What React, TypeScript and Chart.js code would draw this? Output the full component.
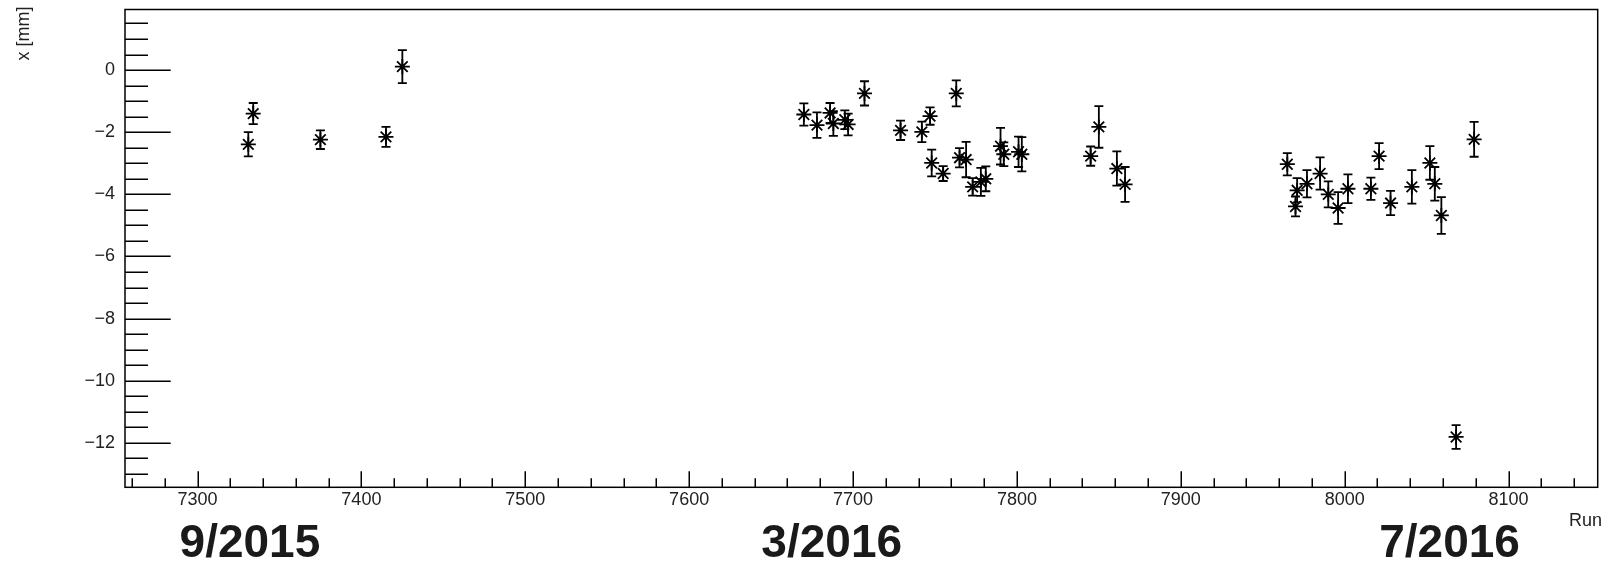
import React, { useEffect, useRef } from "react";
import { Chart, registerables } from "chart.js";

Chart.register(...registerables);

// Run numbers
const runs = [
  7331, 7334, 7375, 7415, 7425,
  7670, 7678, 7686, 7688, 7695, 7697, 7707, 7729, 7742, 7747, 7748, 7755, 7763, 7765, 7769,
  7773, 7778, 7781, 7790, 7792, 7801, 7803, 7845, 7850, 7861, 7866,
  7965, 7970, 7971, 7977, 7985, 7990, 7996, 8002, 8016, 8021, 8028, 8041, 8052, 8055, 8059,
  8068, 8079,
];
// x position [mm]
const xPositions = [
  -2.39, -1.4, -2.24, -2.15, 0.11,
  -1.43, -1.77, -1.38, -1.72, -1.6, -1.75, -0.75, -1.94, -1.99, -1.48, -2.99, -3.33, -0.75, -2.82, -2.88,
  -3.76, -3.6, -3.5, -2.45, -2.71, -2.63, -2.71, -2.77, -1.83, -3.17, -3.68,
  -3.03, -4.39, -3.87, -3.66, -3.33, -4.0, -4.44, -3.82, -3.82, -2.77, -4.28, -3.76, -2.99, -3.66, -4.68,
  -11.81, -2.23,
];
// error [mm]
const xErrors = [
  0.39, 0.34, 0.3, 0.32, 0.53,
  0.36, 0.41, 0.32, 0.4, 0.3, 0.35, 0.39, 0.31, 0.33, 0.28, 0.43, 0.24, 0.42, 0.31, 0.57,
  0.28, 0.45, 0.4, 0.59, 0.38, 0.49, 0.55, 0.31, 0.67, 0.55, 0.56,
  0.36, 0.32, 0.39, 0.44, 0.52, 0.42, 0.51, 0.46, 0.36, 0.42, 0.39, 0.54, 0.54, 0.54, 0.59,
  0.38, 0.56,
];

const yMajorTicks = [0, -2, -4, -6, -8, -10, -12];
const xMajorTicks = [7300, 7400, 7500, 7600, 7700, 7800, 7900, 8000, 8100];
const dateLabels = ["9/2015", "3/2016", "7/2016"];
const dateRuns = [7332, 7687, 8064];

const X_MIN = 7255.76;
const X_MAX = 8154.4;
const Y_MIN = -13.43;
const Y_MAX = 1.95;

const FONT = '"Liberation Sans", Arial, Helvetica, sans-serif';

const zeroPad = (scale: any) => {
  scale.paddingTop = 0;
  scale.paddingBottom = 0;
  scale.paddingLeft = 0;
  scale.paddingRight = 0;
};

const rootPlugin = {
  id: "rootStyle",
  afterDatasetsDraw(chart: any) {
    const ctx = chart.ctx;
    const xs = chart.scales.x;
    const ys = chart.scales.y;
    ctx.save();
    ctx.strokeStyle = "#000";
    ctx.lineWidth = 1.8;
    for (let i = 0; i < runs.length; i++) {
      const px = xs.getPixelForValue(runs[i]);
      const y1 = ys.getPixelForValue(xPositions[i] + xErrors[i]);
      const y2 = ys.getPixelForValue(xPositions[i] - xErrors[i]);
      ctx.beginPath();
      ctx.moveTo(px, y1);
      ctx.lineTo(px, y2);
      ctx.moveTo(px - 4.5, y1);
      ctx.lineTo(px + 4.5, y1);
      ctx.moveTo(px - 4.5, y2);
      ctx.lineTo(px + 4.5, y2);
      ctx.stroke();
      ctx.beginPath();
      ctx.fillStyle = "#000";
      ctx.arc(px, ys.getPixelForValue(xPositions[i]), 2, 0, Math.PI * 2);
      ctx.fill();
    }
    ctx.restore();
  },
  afterDraw(chart: any) {
    const ctx = chart.ctx;
    const { left, right, top, bottom } = chart.chartArea;
    const xs = chart.scales.x;
    const ys = chart.scales.y;
    ctx.save();
    ctx.strokeStyle = "#000";
    ctx.lineWidth = 1.5;
    ctx.strokeRect(left, top, right - left, bottom - top);
    // y ticks (inward)
    ctx.beginPath();
    for (let k = -26; k <= 3; k++) {
      const v = k * 0.5;
      if (v < Y_MIN || v > Y_MAX) continue;
      const len = k % 4 === 0 ? 45.7 : 23;
      const py = Math.round(ys.getPixelForValue(v)) + 0.25;
      ctx.moveTo(left, py);
      ctx.lineTo(left + len, py);
    }
    // x ticks (inward)
    for (let r = 7260; r <= 8150; r += 20) {
      const len = r % 100 === 0 ? 16 : 9;
      const px = Math.round(xs.getPixelForValue(r)) + 0.25;
      ctx.moveTo(px, bottom);
      ctx.lineTo(px, bottom - len);
    }
    ctx.stroke();

    // axis titles
    ctx.fillStyle = "#222";
    ctx.font = `18px ${FONT}`;
    ctx.textAlign = "right";
    ctx.textBaseline = "alphabetic";
    ctx.fillText("Run", 1602, 525.5);
    ctx.save();
    ctx.translate(29, 6.5);
    ctx.rotate(-Math.PI / 2);
    ctx.textAlign = "right";
    ctx.fillText("x [mm]", 0, 0);
    ctx.restore();

    // date annotations
    ctx.fillStyle = "#1a1a1a";
    ctx.font = `bold 46px ${FONT}`;
    ctx.textAlign = "center";
    for (let i = 0; i < dateLabels.length; i++) {
      ctx.fillText(dateLabels[i], xs.getPixelForValue(dateRuns[i]), 557);
    }
    ctx.restore();
  },
};

export default function App() {
  const canvasRef = useRef<HTMLCanvasElement | null>(null);

  useEffect(() => {
    document.body.style.margin = "0";
    const canvas = canvasRef.current;
    if (!canvas) return;
    const chart = new Chart(canvas, {
      type: "scatter",
      data: {
        datasets: [
          {
            data: runs.map((r, i) => ({ x: r, y: xPositions[i] })),
            pointStyle: "star",
            pointRadius: 7.5,
            pointHoverRadius: 7.5,
            borderColor: "#000",
            backgroundColor: "#000",
            borderWidth: 1.8,
            showLine: false,
          },
        ],
      },
      options: {
        responsive: false,
        animation: false,
        devicePixelRatio: 1,
        layout: { padding: { left: 0, top: 9.5, right: 5.3, bottom: 0 } },
        plugins: {
          legend: { display: false },
          tooltip: { enabled: false },
          title: { display: false },
        },
        scales: {
          x: {
            type: "linear",
            position: "bottom",
            min: X_MIN,
            max: X_MAX,
            grid: { display: false, drawTicks: false },
            border: { display: false },
            afterBuildTicks: (scale: any) => {
              scale.ticks = xMajorTicks.map((v) => ({ value: v }));
            },
            afterFit: (scale: any) => {
              scale.height = 563 - 487.3;
              zeroPad(scale);
            },
            ticks: {
              autoSkip: false,
              maxRotation: 0,
              minRotation: 0,
              padding: 2,
              color: "#222",
              font: { family: FONT, size: 18 },
              callback: (v: any) => String(v),
            },
          },
          y: {
            type: "linear",
            position: "left",
            min: Y_MIN,
            max: Y_MAX,
            grid: { display: false, drawTicks: false },
            border: { display: false },
            afterBuildTicks: (scale: any) => {
              scale.ticks = yMajorTicks.map((v) => ({ value: v }));
            },
            afterFit: (scale: any) => {
              scale.width = 125;
              zeroPad(scale);
            },
            ticks: {
              autoSkip: false,
              padding: 10,
              color: "#222",
              font: { family: FONT, size: 18 },
              callback: (v: any) => (Number(v) < 0 ? "\u2212" + String(-Number(v)) : String(v)),
            },
          },
        },
      },
      plugins: [rootPlugin],
    });
    return () => chart.destroy();
  }, []);

  return (
    <div style={{ width: 1607, height: 563, position: "relative" }}>
      <canvas ref={canvasRef} width={1607} height={563} style={{ display: "block" }} />
    </div>
  );
}
